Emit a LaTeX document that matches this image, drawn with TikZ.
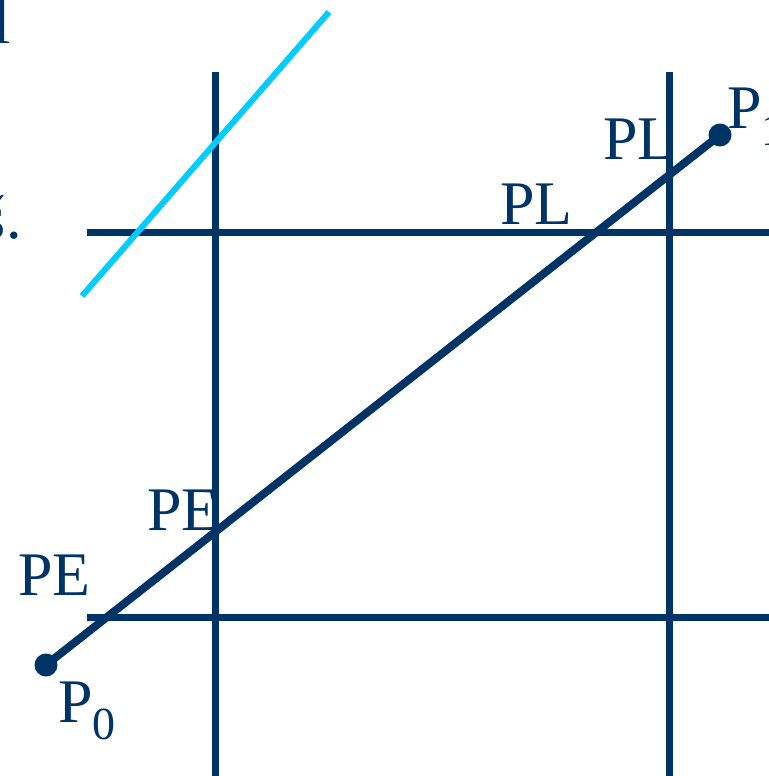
\documentclass[tikz,border=0pt]{standalone}
\usepackage{fontspec}
\setmainfont{Liberation Serif}
\usetikzlibrary{positioning}
\definecolor{navy}{HTML}{003366}
\definecolor{winblue}{HTML}{00CCFF}
\tikzset{
  edgeline/.style={draw=navy, line width=3.5pt},
  seg/.style={draw=navy, line width=4pt},
  winline/.style={draw=winblue, line width=3pt},
  endpt/.style={circle, fill=navy, inner sep=0pt, minimum size=11.5pt},
  lbl/.style={text=navy, font=\fontsize{31}{36}\selectfont, inner sep=0pt}
}

\begin{document}
\begin{tikzpicture}[x=0.5pt, y=-0.5pt]
  \useasboundingbox (0,0) rectangle (769,776);
  \clip (0,0) rectangle (769,776);

  % cut-off text at the left edge
  \node[lbl, anchor=base west] (cutl) at (-7,43) {l};
  \node[lbl, anchor=base east] (cuts) at (22,238) {š.};

  % labels
  \node[lbl, anchor=base west] (pl1) at (603,159) {PL};
  \node[lbl, anchor=base west] (pl2) at (500,224) {PL};
  \node[lbl, anchor=base west] (pe1) at (147,530) {PE};
  \node[lbl, anchor=base west] (pe2) at (18,595) {PE};
  \node[lbl, anchor=base west] (lp0) at (58,722) {P\raisebox{-0.28em}{\fontsize{23}{26}\selectfont 0}};
  \node[lbl, anchor=base west] (lp1) at (727,128) {P\raisebox{-0.28em}{\fontsize{23}{26}\selectfont 1}};

  % window edges
  \coordinate (l0) at (215,72);  \coordinate (l1) at (215,776);
  \coordinate (r0) at (669,72);  \coordinate (r1) at (669,776);
  \coordinate (t0) at (87,232);  \coordinate (t1) at (769,232);
  \coordinate (b0) at (87,617);  \coordinate (b1) at (769,617);
  \draw[edgeline] (l0) -- (l1);
  \draw[edgeline] (r0) -- (r1);
  \draw[edgeline] (t0) -- (t1);
  \draw[edgeline] (b0) -- (b1);

  % segment P0 P1
  \node[endpt] (p0) at (46,665) {};
  \node[endpt] (p1) at (720,135) {};
  \draw[seg] (p0.center) -- (p1.center);

  % outside line
  \coordinate (c0) at (82,296);
  \coordinate (c1) at (329,12);
  \draw[winline] (c0) -- (c1);
\end{tikzpicture}
\end{document}
